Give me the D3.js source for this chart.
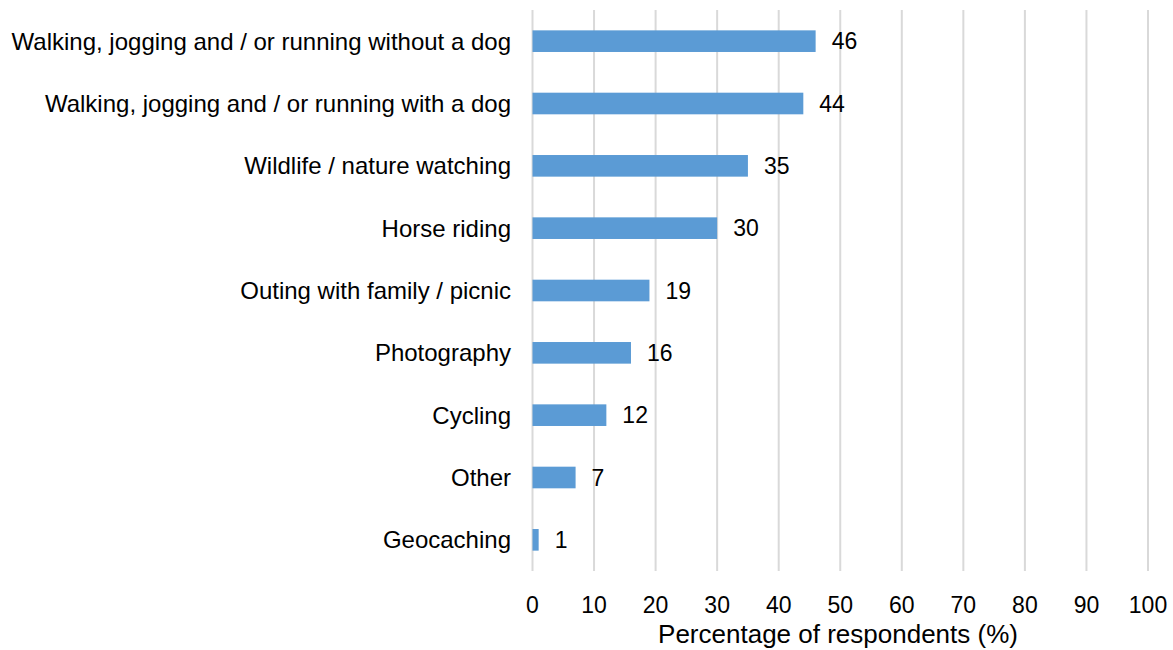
<!DOCTYPE html>
<html><head><meta charset="utf-8">
<script src="https://cdn.jsdelivr.net/npm/d3@7"></script>
<style>body{margin:0;background:#fff}svg{display:block}text{font-family:"Liberation Sans",Arial,sans-serif;fill:#000}</style>
</head><body><svg id="c" width="1173" height="650"></svg>
<script>
const categories = ["Walking, jogging and / or running without a dog","Walking, jogging and / or running with a dog","Wildlife / nature watching","Horse riding","Outing with family / picnic","Photography","Cycling","Other","Geocaching"];
const values = [46,44,35,30,19,16,12,7,1];
const xTicks = [0,10,20,30,40,50,60,70,80,90,100];
const xTitle = "Percentage of respondents (%)";

const svg = d3.select("#c");
const x = d3.scaleLinear().domain([0,100]).range([532.5,1148]);
const y = d3.scaleBand().domain(categories).range([10,571]).paddingInner(0.653).paddingOuter(0.3265);

svg.append("g").selectAll("line").data(xTicks).join("line")
  .attr("x1",d=>x(d)).attr("x2",d=>x(d)).attr("y1",10).attr("y2",571)
  .attr("stroke","#d9d9d9").attr("stroke-width",2);

svg.append("g").selectAll("rect").data(values).join("rect")
  .attr("x",x(0)).attr("y",(d,i)=>y(categories[i]))
  .attr("width",d=>x(d)-x(0)).attr("height",y.bandwidth())
  .attr("fill","#5b9bd5");

svg.append("g").selectAll("text").data(values).join("text")
  .attr("x",d=>x(d)+16).attr("y",(d,i)=>y(categories[i])+y.bandwidth()/2)
  .attr("dy","0.36em").attr("font-size",23).text(d=>d);

svg.append("g").selectAll("text").data(categories).join("text")
  .attr("x",511).attr("y",d=>y(d)+y.bandwidth()/2).attr("dy","0.36em")
  .attr("text-anchor","end").attr("font-size",24).text(d=>d);

svg.append("g").selectAll("text").data(xTicks).join("text")
  .attr("x",d=>x(d)).attr("y",613).attr("text-anchor","middle").attr("font-size",23).text(d=>d);

svg.append("text").attr("x",838).attr("y",643).attr("text-anchor","middle")
  .attr("font-size",26).text(xTitle);
</script></body></html>
